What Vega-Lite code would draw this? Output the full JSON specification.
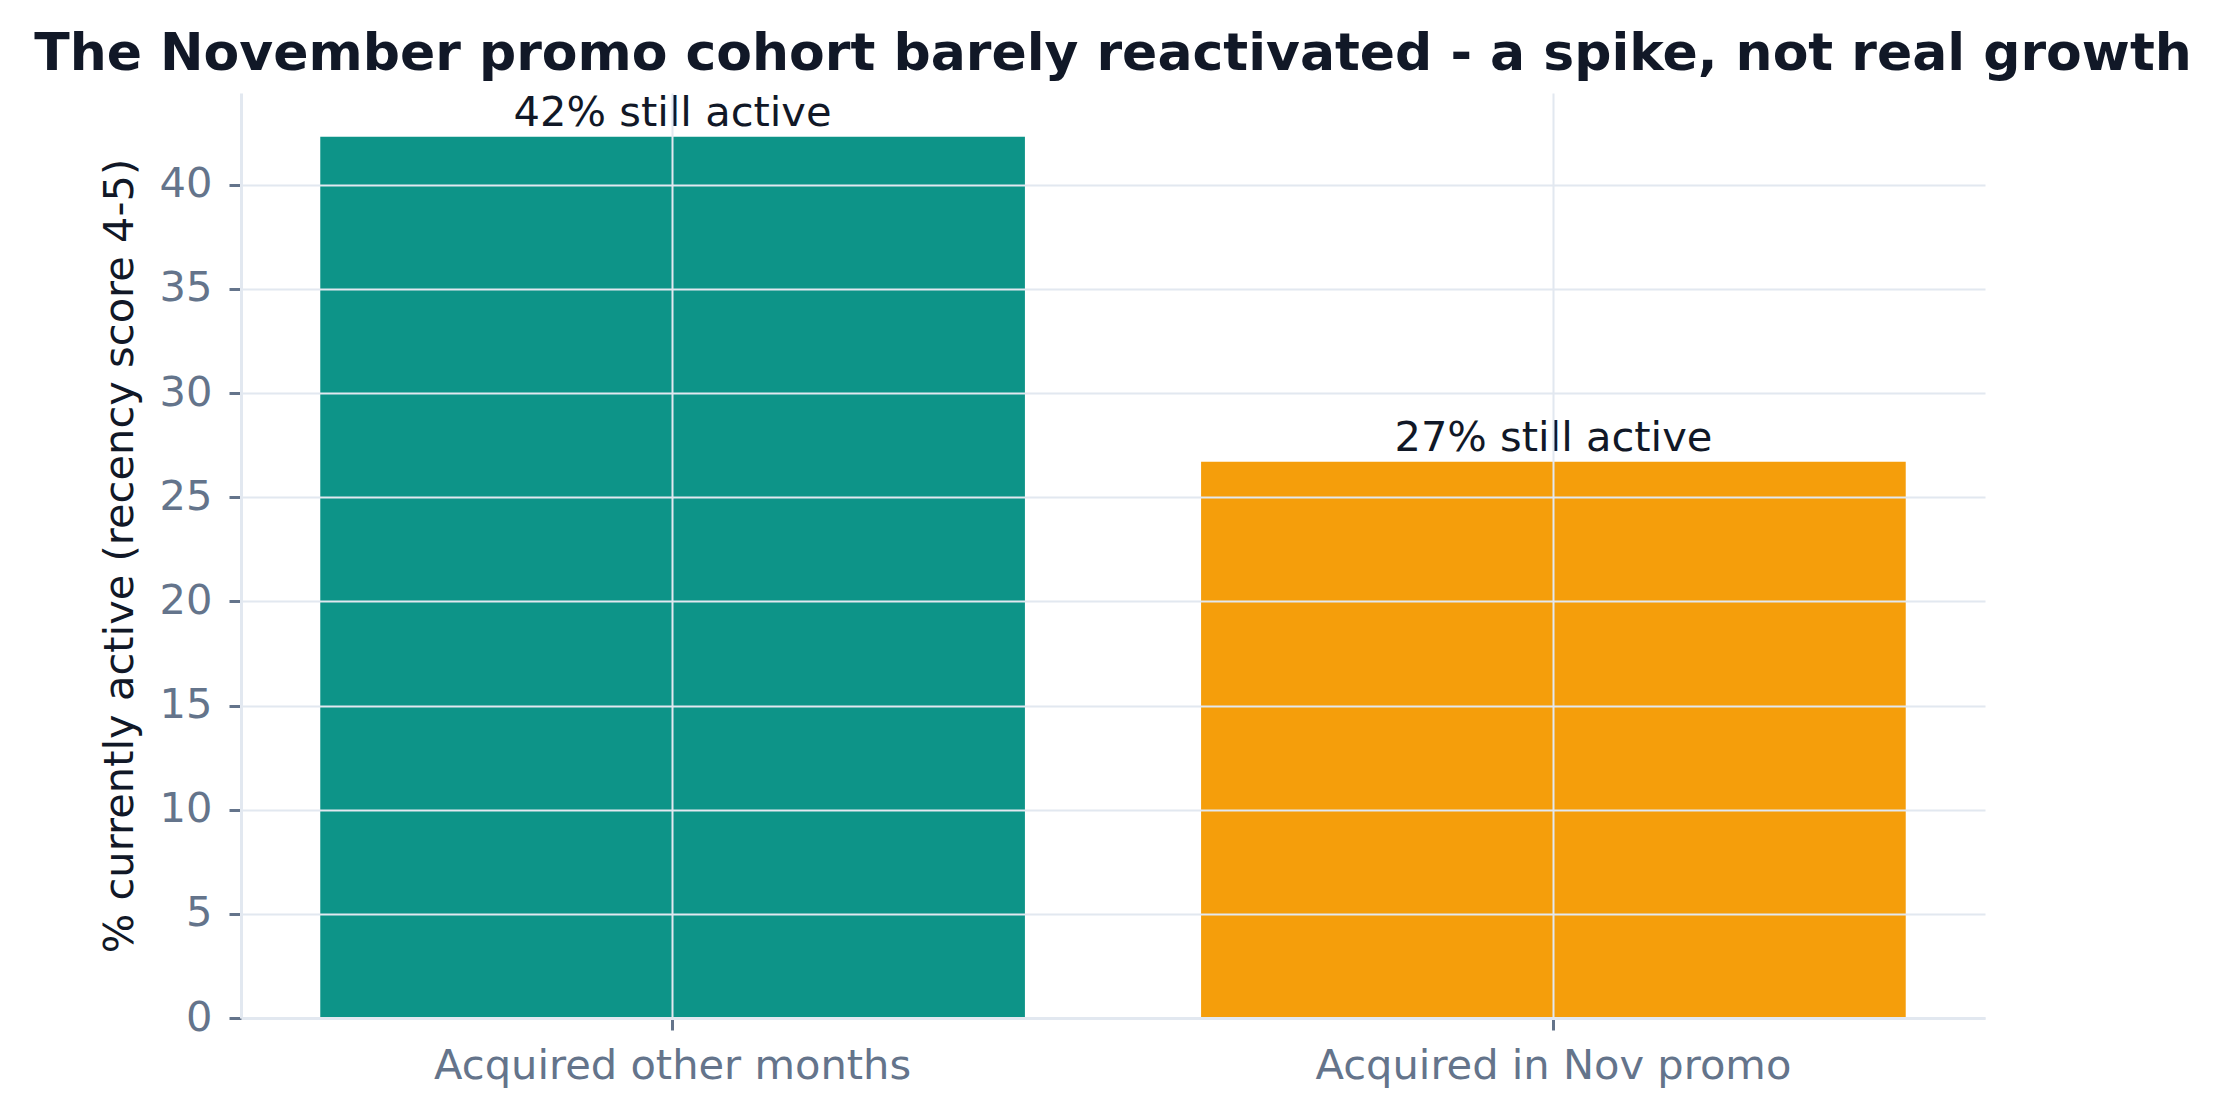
{
  "$schema": "https://vega.github.io/schema/vega-lite/v6.json",
  "autosize": {"type": "none"},
  "width": 1744,
  "height": 925,
  "padding": {"left": 241, "top": 93, "right": 238, "bottom": 101},
  "background": "white",
  "config": {
    "view": {"stroke": null},
    "font": "DejaVu Sans",
    "title": {"font": "DejaVu Sans", "fontSize": 52, "fontWeight": "bold", "color": "#111827", "anchor": "middle", "baseline": "alphabetic", "offset": 12}
  },
  "title": "The November promo cohort barely reactivated - a spike, not real growth",
  "data": {
    "values": [
      {"group": "Acquired other months", "pct": 42.3, "label": "42% still active"},
      {"group": "Acquired in Nov promo", "pct": 26.7, "label": "27% still active"}
    ]
  },
  "encoding": {
    "x": {
      "field": "group", "type": "nominal", "sort": null,
      "scale": {"paddingInner": 0.2, "paddingOuter": 0.09},
      "axis": {
        "title": null, "labelAngle": 0, "labelLimit": 0, "labelFontSize": 41.6, "labelColor": "#64748b", "labelFont": "DejaVu Sans",
        "tickSize": 12, "tickWidth": 3, "tickColor": "#64748b", "labelPadding": 15,
        "domainColor": "#e2e8f0", "domainWidth": 3,
        "grid": true, "gridColor": "#e2e8f0", "gridWidth": 2, "bandPosition": 0.5, "zindex": 1
      }
    },
    "y": {
      "field": "pct", "type": "quantitative",
      "scale": {"domain": [0, 44.4], "nice": false},
      "axis": {
        "title": "% currently active (recency score 4-5)", "titleFontSize": 41.6, "titleFontWeight": "normal", "titleColor": "#111827", "titleFont": "DejaVu Sans", "titlePadding": 18,
        "values": [0, 5, 10, 15, 20, 25, 30, 35, 40],
        "labelFontSize": 41.6, "labelColor": "#64748b", "labelFont": "DejaVu Sans", "labelPadding": 17,
        "tickSize": 12, "tickWidth": 3, "tickColor": "#64748b",
        "domainColor": "#e2e8f0", "domainWidth": 3,
        "grid": true, "gridColor": "#e2e8f0", "gridWidth": 2, "zindex": 1
      }
    }
  },
  "layer": [
    {
      "mark": {"type": "bar"},
      "encoding": {
        "color": {
          "field": "group", "type": "nominal",
          "scale": {"domain": ["Acquired other months", "Acquired in Nov promo"], "range": ["#0d9488", "#f59e0b"]},
          "legend": null
        }
      }
    },
    {
      "mark": {"type": "text", "font": "DejaVu Sans", "fontSize": 41.6, "color": "#111827", "baseline": "alphabetic", "dy": -11},
      "encoding": {"text": {"field": "label"}}
    }
  ]
}
